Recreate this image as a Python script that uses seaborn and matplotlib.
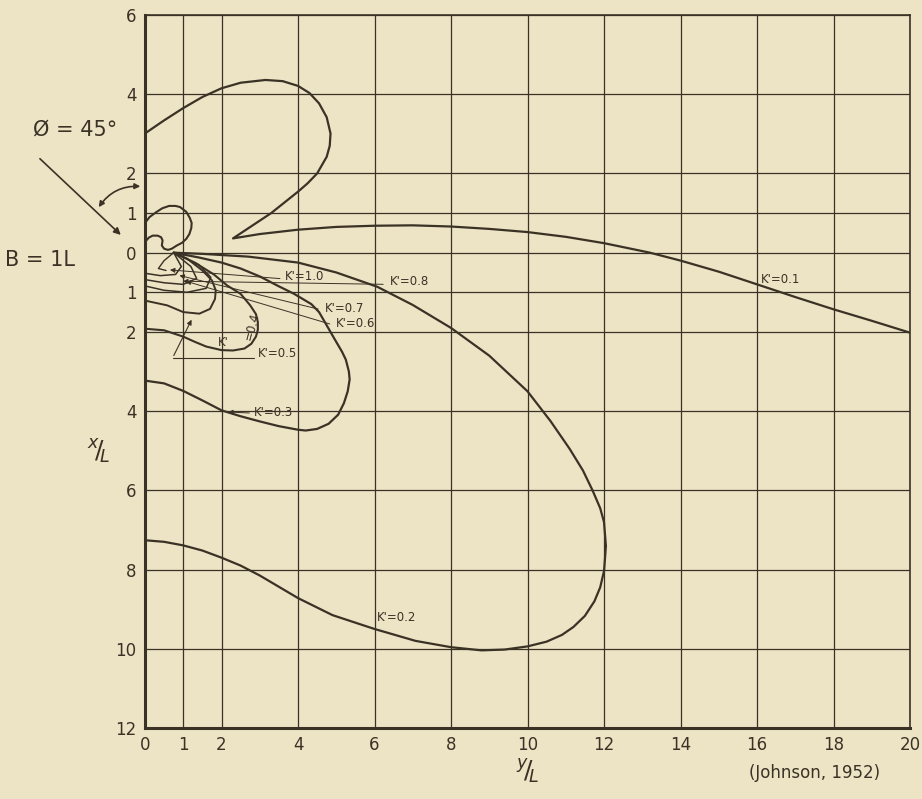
import numpy as np
import pandas as pd
import seaborn as sns
import matplotlib.pyplot as plt

# Contours of diffraction coefficient K' (Johnson, 1952).
# xs = y/L (horizontal), ys = x/L measured downward (negative = above the breakwater line)
k01_x = [0, 0.5, 1, 1.5, 2, 2.5, 3.15, 3.6, 4, 4.3, 4.55, 4.75, 4.85, 4.83, 4.75, 4.5, 4.25,
         4, 3.65, 3.3, 2.8, 2.3,
         3, 4, 5, 6, 7, 8, 9, 10, 11, 12, 13.2, 14, 15, 16, 17, 18, 19, 20]
k01_y = [-3.01, -3.34, -3.65, -3.93, -4.15, -4.29, -4.36, -4.33, -4.21, -4.03, -3.77, -3.42,
         -3.01, -2.7, -2.42, -2.0, -1.75, -1.54, -1.27, -1.0, -0.68, -0.36,
         -0.47, -0.58, -0.65, -0.68, -0.69, -0.66, -0.6, -0.52, -0.4, -0.24, 0.0, 0.2,
         0.48, 0.8, 1.12, 1.43, 1.72, 2.02]

k02_x = [0.75, 1.5, 2.7, 4, 5, 6.07, 7, 8, 9, 10, 10.6, 11.1, 11.45, 11.7, 11.9, 12, 12.05,
         12.02, 12, 11.9, 11.75, 11.5, 11.2, 10.9, 10.5, 10, 9.4, 8.8, 8, 7.07, 6, 4.9, 4,
         3, 2.5, 2, 1.5, 1, 0.5, 0]
k02_y = [0.0, 0.03, 0.1, 0.25, 0.5, 0.86, 1.32, 1.9, 2.6, 3.5, 4.25, 4.95, 5.5, 6.0, 6.45,
         6.8, 7.4, 7.8, 8.04, 8.45, 8.8, 9.17, 9.45, 9.65, 9.82, 9.94, 10.02, 10.04, 9.96,
         9.8, 9.5, 9.15, 8.72, 8.15, 7.9, 7.7, 7.52, 7.39, 7.3, 7.26]

ear_x = [0, 0.12, 0.29, 0.45, 0.63, 0.8, 0.92, 1.08, 1.17, 1.22, 1.21, 1.16, 1.08, 0.97,
         0.83, 0.7, 0.6, 0.5, 0.44, 0.46, 0.42, 0.33, 0.2, 0.1, 0]
ear_y = [-0.75, -0.9, -1.02, -1.12, -1.18, -1.18, -1.15, -1.03, -0.88, -0.75, -0.62, -0.47,
         -0.35, -0.25, -0.18, -0.1, -0.07, -0.1, -0.18, -0.31, -0.39, -0.43, -0.43, -0.38, -0.27]

k03_x = [0.75, 1.4, 2, 2.5, 3, 3.5, 3.9, 4.35, 4.55, 4.7, 4.95, 5.15, 5.25, 5.33, 5.35,
         5.3, 5.2, 5.05, 4.8, 4.5, 4.2, 4, 3.5, 3, 2.5, 2, 1.5, 1, 0.5, 0]
k03_y = [0.0, 0.12, 0.25, 0.4, 0.6, 0.85, 1.04, 1.3, 1.5, 1.75, 2.17, 2.5, 2.7, 3.0, 3.2,
         3.5, 3.8, 4.09, 4.32, 4.45, 4.49, 4.47, 4.38, 4.26, 4.13, 3.98, 3.73, 3.49, 3.3, 3.23]

k04_x = [0.75, 1.3, 1.8, 2.15, 2.5, 2.75, 2.9, 2.95, 2.95, 2.9, 2.78, 2.6, 2.3, 2, 1.6,
         1.3, 1, 0.5, 0]
k04_y = [0.0, 0.25, 0.55, 0.83, 1.04, 1.33, 1.55, 1.75, 1.95, 2.12, 2.3, 2.42, 2.47, 2.46,
         2.37, 2.25, 2.12, 1.96, 1.92]

k05_x = [0.75, 1.1, 1.5, 1.75, 1.85, 1.83, 1.7, 1.42, 1, 0.58, 0]
k05_y = [0.0, 0.15, 0.45, 0.7, 0.95, 1.17, 1.42, 1.54, 1.5, 1.33, 1.21]

k06_x = [0.75, 1.4, 1.72, 1.6, 1.1, 0.5, 0]
k06_y = [0.0, 0.3, 0.62, 0.9, 1.0, 0.95, 0.84]

k07_x = [0.75, 1.2, 1.35, 1.0, 0.5, 0]
k07_y = [0.0, 0.35, 0.65, 0.8, 0.76, 0.68]

k08_x = [0.75, 0.95, 0.8, 0.4, 0]
k08_y = [0.0, 0.35, 0.55, 0.58, 0.52]

k10_x = [0.75, 0.5, 0.35, 0.55]
k10_y = [0.0, 0.2, 0.4, 0.45]

x_ticks = [0, 1, 2, 4, 6, 8, 10, 12, 14, 16, 18, 20]
y_ticks = [-6, -4, -2, -1, 0, 1, 2, 4, 6, 8, 10, 12]
y_ticklabels = ['6', '4', '2', '1', '0', '1', '2', '4', '6', '8', '10', '12']

# label text, anchor (left, centre), leader start at label / leader tip near the curves
labels = ["K'=1.0", "K'=0.8", "K'=0.7", "K'=0.6", "K'=0.5", "K'=0.3", "K'=0.2", "K'=0.1"]
label_x = [3.65, 6.4, 4.7, 5.0, 2.95, 2.85, 6.06, 16.1]
label_y = [0.6, 0.72, 1.42, 1.8, 2.55, 4.04, 9.2, 0.68]
leader_from = [(3.6, 0.66), (6.3, 0.8), (4.6, 1.44), (4.9, 1.82), None, (2.8, 4.05), None, None]
leader_to = [(0.58, 0.43), (0.92, 0.72), (0.83, 0.56), (1.0, 0.7), None, (2.1, 4.02), None, None]

ink = '#3b3226'
paper = '#ede3c5'

sns.set_style('white')
plt.rcParams['font.family'] = ['DejaVu Sans']

fig = plt.figure(figsize=(9.22, 7.99), dpi=100, facecolor=paper)
ax = fig.add_axes([145 / 922, 1 - 728 / 799, 765 / 922, 713 / 799])
ax.set_facecolor(paper)

curves = [(k01_x, k01_y, 1.6), (k02_x, k02_y, 1.6), (ear_x, ear_y, 1.5),
          (k03_x, k03_y, 1.6), (k04_x, k04_y, 1.5), (k05_x, k05_y, 1.4),
          (k06_x, k06_y, 1.1), (k07_x, k07_y, 1.1), (k08_x, k08_y, 1.1), (k10_x, k10_y, 1.0)]
for cx, cy, lw in curves:
    df = pd.DataFrame({'x': cx, 'y': cy})
    sns.lineplot(data=df, x='x', y='y', sort=False, estimator=None,
                 color=ink, linewidth=lw, ax=ax)

ax.set_xlim(0, 20)
ax.set_ylim(12, -6)
ax.set_xticks(x_ticks)
ax.set_yticks(y_ticks)
ax.set_yticklabels(y_ticklabels)
ax.grid(True, color=ink, linewidth=0.9)
ax.set_axisbelow(True)
ax.tick_params(length=0, labelsize=12, labelcolor=ink, pad=6)
ax.set_xlabel('')
ax.set_ylabel('')
for side, sp in ax.spines.items():
    sp.set_color(ink)
    sp.set_linewidth(2.2 if side in ('left', 'bottom') else 1.2)

for txt, lx, ly, lf, lt in zip(labels, label_x, label_y, leader_from, leader_to):
    ax.text(lx, ly, txt, fontsize=8.5, color=ink, va='center', ha='left')
    if lf is not None:
        ax.annotate('', xy=lt, xytext=lf,
                    arrowprops=dict(arrowstyle='-|>', lw=0.7, color=ink, mutation_scale=7))

# K'=0.4 written along its loop
ax.text(2.05, 2.28, "K'", fontsize=8.5, color=ink, va='center', ha='center')
ax.text(2.8, 1.85, "=0.4", fontsize=8.5, color=ink, va='center', ha='center', rotation=75)

# K'=0.5 leader: horizontal run then a rise to the loop
ax.plot([2.85, 0.72], [2.66, 2.66], color=ink, lw=0.8)
ax.annotate('', xy=(1.25, 1.63), xytext=(0.72, 2.66),
            arrowprops=dict(arrowstyle='-|>', lw=0.8, color=ink, mutation_scale=7))

# wave approach annotation
ax.annotate('', xy=(-0.58, -0.4), xytext=(-2.8, -2.42), annotation_clip=False,
            arrowprops=dict(arrowstyle='-|>', lw=1.2, color=ink, mutation_scale=10))
ax.annotate('', xy=(-0.05, -1.67), xytext=(-1.25, -1.09), annotation_clip=False,
            arrowprops=dict(arrowstyle='<|-|>', lw=1.2, color=ink, mutation_scale=8,
                            connectionstyle='arc3,rad=-0.3'))

fig.text(75 / 922, 1 - 130 / 799, 'Ø = 45°', fontsize=15, color=ink, ha='center', va='center')
fig.text(40 / 922, 1 - 260 / 799, 'B = 1L', fontsize=15, color=ink, ha='center', va='center')
fig.text(98 / 922, 1 - 452 / 799, r'$^{x}\!/\!_{L}$', fontsize=18, color=ink, ha='center', va='center')
fig.text(527 / 922, 1 - 772 / 799, r'$^{y}\!/\!_{L}$', fontsize=18, color=ink, ha='center', va='center')
fig.text(815 / 922, 1 - 773 / 799, '(Johnson, 1952)', fontsize=12, color=ink, ha='center', va='center')

fig.savefig('out.png', dpi=100, facecolor=paper)
